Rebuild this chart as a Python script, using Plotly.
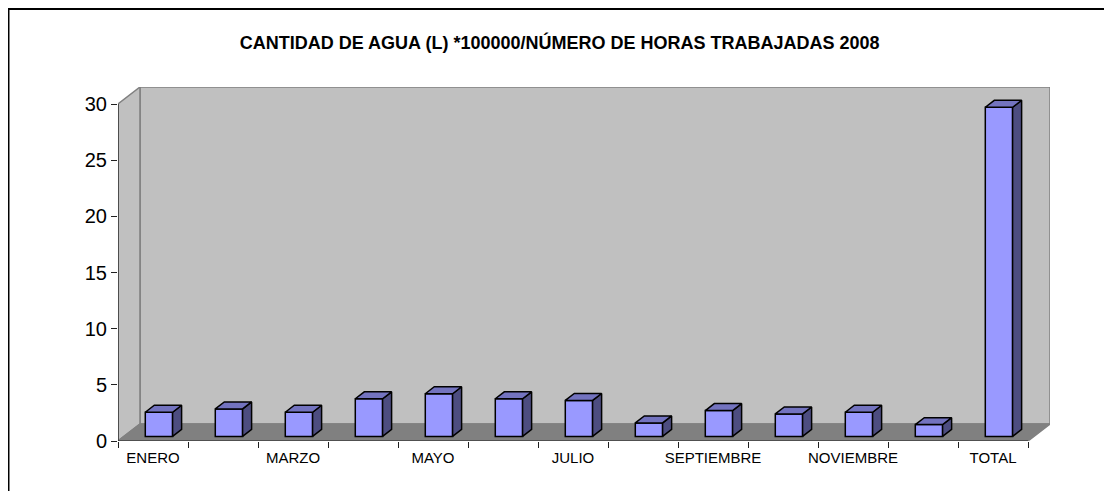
import plotly.graph_objects as go

# ---- data ----
MESES = ["ENERO", "FEBRERO", "MARZO", "ABRIL", "MAYO", "JUNIO", "JULIO",
         "AGOSTO", "SEPTIEMBRE", "OCTUBRE", "NOVIEMBRE", "DICIEMBRE", "TOTAL"]
VALORES = [2.15, 2.45, 2.15, 3.35, 3.8, 3.35, 3.2, 1.2, 2.3, 2.0, 2.15, 1.05, 29.3]
Y_TICKS = [0, 5, 10, 15, 20, 25, 30]
TITULO = "CANTIDAD DE AGUA (L) *100000/NÚMERO DE HORAS TRABAJADAS 2008"

# ---- fake 3D geometry (data units) ----
N = len(MESES)
Y_MAX = 30
D_X, D_Y = 0.314, 1.514        # full depth offset of the back wall
F, B = 0.27, 0.68              # bar front / back depth fraction
W = 0.39                       # bar width (category units)

FONT = "Arial, Liberation Sans, sans-serif"

fig = go.Figure()

# front faces as real bars
fig.add_trace(go.Bar(
    x=[i + 0.5 + F * D_X for i in range(N)],
    y=VALORES,
    base=F * D_Y,
    width=W,
    marker=dict(color="#9999FF", line=dict(color="black", width=1.5)),
    hoverinfo="skip",
))

# top and side faces built from the same values
top_x, top_y, side_x, side_y = [], [], [], []
ddx, ddy = (B - F) * D_X, (B - F) * D_Y
for i, v in enumerate(VALORES):
    xl = i + 0.5 + F * D_X - W / 2
    xr = xl + W
    yb = F * D_Y
    yt = yb + v
    top_x += [xl, xr, xr + ddx, xl + ddx, xl, None]
    top_y += [yt, yt, yt + ddy, yt + ddy, yt, None]
    side_x += [xr, xr, xr + ddx, xr + ddx, xr, None]
    side_y += [yb, yt, yt + ddy, yb + ddy, yb, None]

fig.add_trace(go.Scatter(x=side_x, y=side_y, mode="lines", fill="toself",
                         fillcolor="#4D4D80", line=dict(color="black", width=1.5),
                         hoverinfo="skip"))
fig.add_trace(go.Scatter(x=top_x, y=top_y, mode="lines", fill="toself",
                         fillcolor="#7373BF", line=dict(color="black", width=1.5),
                         hoverinfo="skip"))

# walls and floor
wall_edge = dict(color="#808080", width=1.5)
shapes = [
    # back wall
    dict(type="rect", xref="x", yref="y", layer="below",
         x0=D_X, x1=N + D_X, y0=D_Y, y1=Y_MAX + D_Y,
         fillcolor="#C0C0C0", line=wall_edge),
    # side wall
    dict(type="path", xref="x", yref="y", layer="below",
         path=f"M 0,0 L 0,{Y_MAX} L {D_X},{Y_MAX + D_Y} L {D_X},{D_Y} Z",
         fillcolor="#C0C0C0", line=wall_edge),
    # floor
    dict(type="path", xref="x", yref="y", layer="below",
         path=f"M 0,0 L {N},0 L {N + D_X},{D_Y} L {D_X},{D_Y} Z",
         fillcolor="#808080", line=wall_edge),
    # axis lines
    dict(type="line", xref="x", yref="y", x0=0, x1=0, y0=0, y1=Y_MAX,
         line=dict(color="#202020", width=1.2)),
    dict(type="line", xref="x", yref="y", x0=0, x1=N, y0=0, y1=0,
         line=dict(color="#202020", width=1.2)),
    # outer chart border
    dict(type="rect", xref="paper", yref="paper",
         x0=-0.1175, x1=1.075, y0=-0.1667, y1=1.2203,
         line=dict(color="black", width=2)),
]

fig.update_layout(
    width=1104, height=483,
    paper_bgcolor="white", plot_bgcolor="white",
    margin=dict(l=110, r=62, t=79, b=50),
    showlegend=False,
    shapes=shapes,
    font=dict(family=FONT, color="black"),
    title=dict(text=f"<b>{TITULO}</b>", x=0.4997, xanchor="center",
               y=0.928, yanchor="middle", font=dict(size=18, family=FONT)),
    xaxis=dict(
        range=[0, N + D_X],
        tickvals=[i + 0.5 for i in range(0, N, 2)],
        ticktext=MESES[::2],
        ticks="", showgrid=False, zeroline=False, showline=False,
        tickfont=dict(size=15, family=FONT),
        ticklabelstandoff=6,
        minor=dict(tickvals=list(range(N + 1)), ticks="outside", ticklen=6,
                   tickcolor="#202020", tickwidth=1, showgrid=False),
    ),
    yaxis=dict(
        range=[0, Y_MAX + D_Y],
        tickvals=Y_TICKS,
        ticks="outside", ticklen=6, tickcolor="#202020",
        showgrid=False, zeroline=False, showline=False,
        tickfont=dict(size=20, family=FONT),
    ),
)

fig.write_html("out.html")
